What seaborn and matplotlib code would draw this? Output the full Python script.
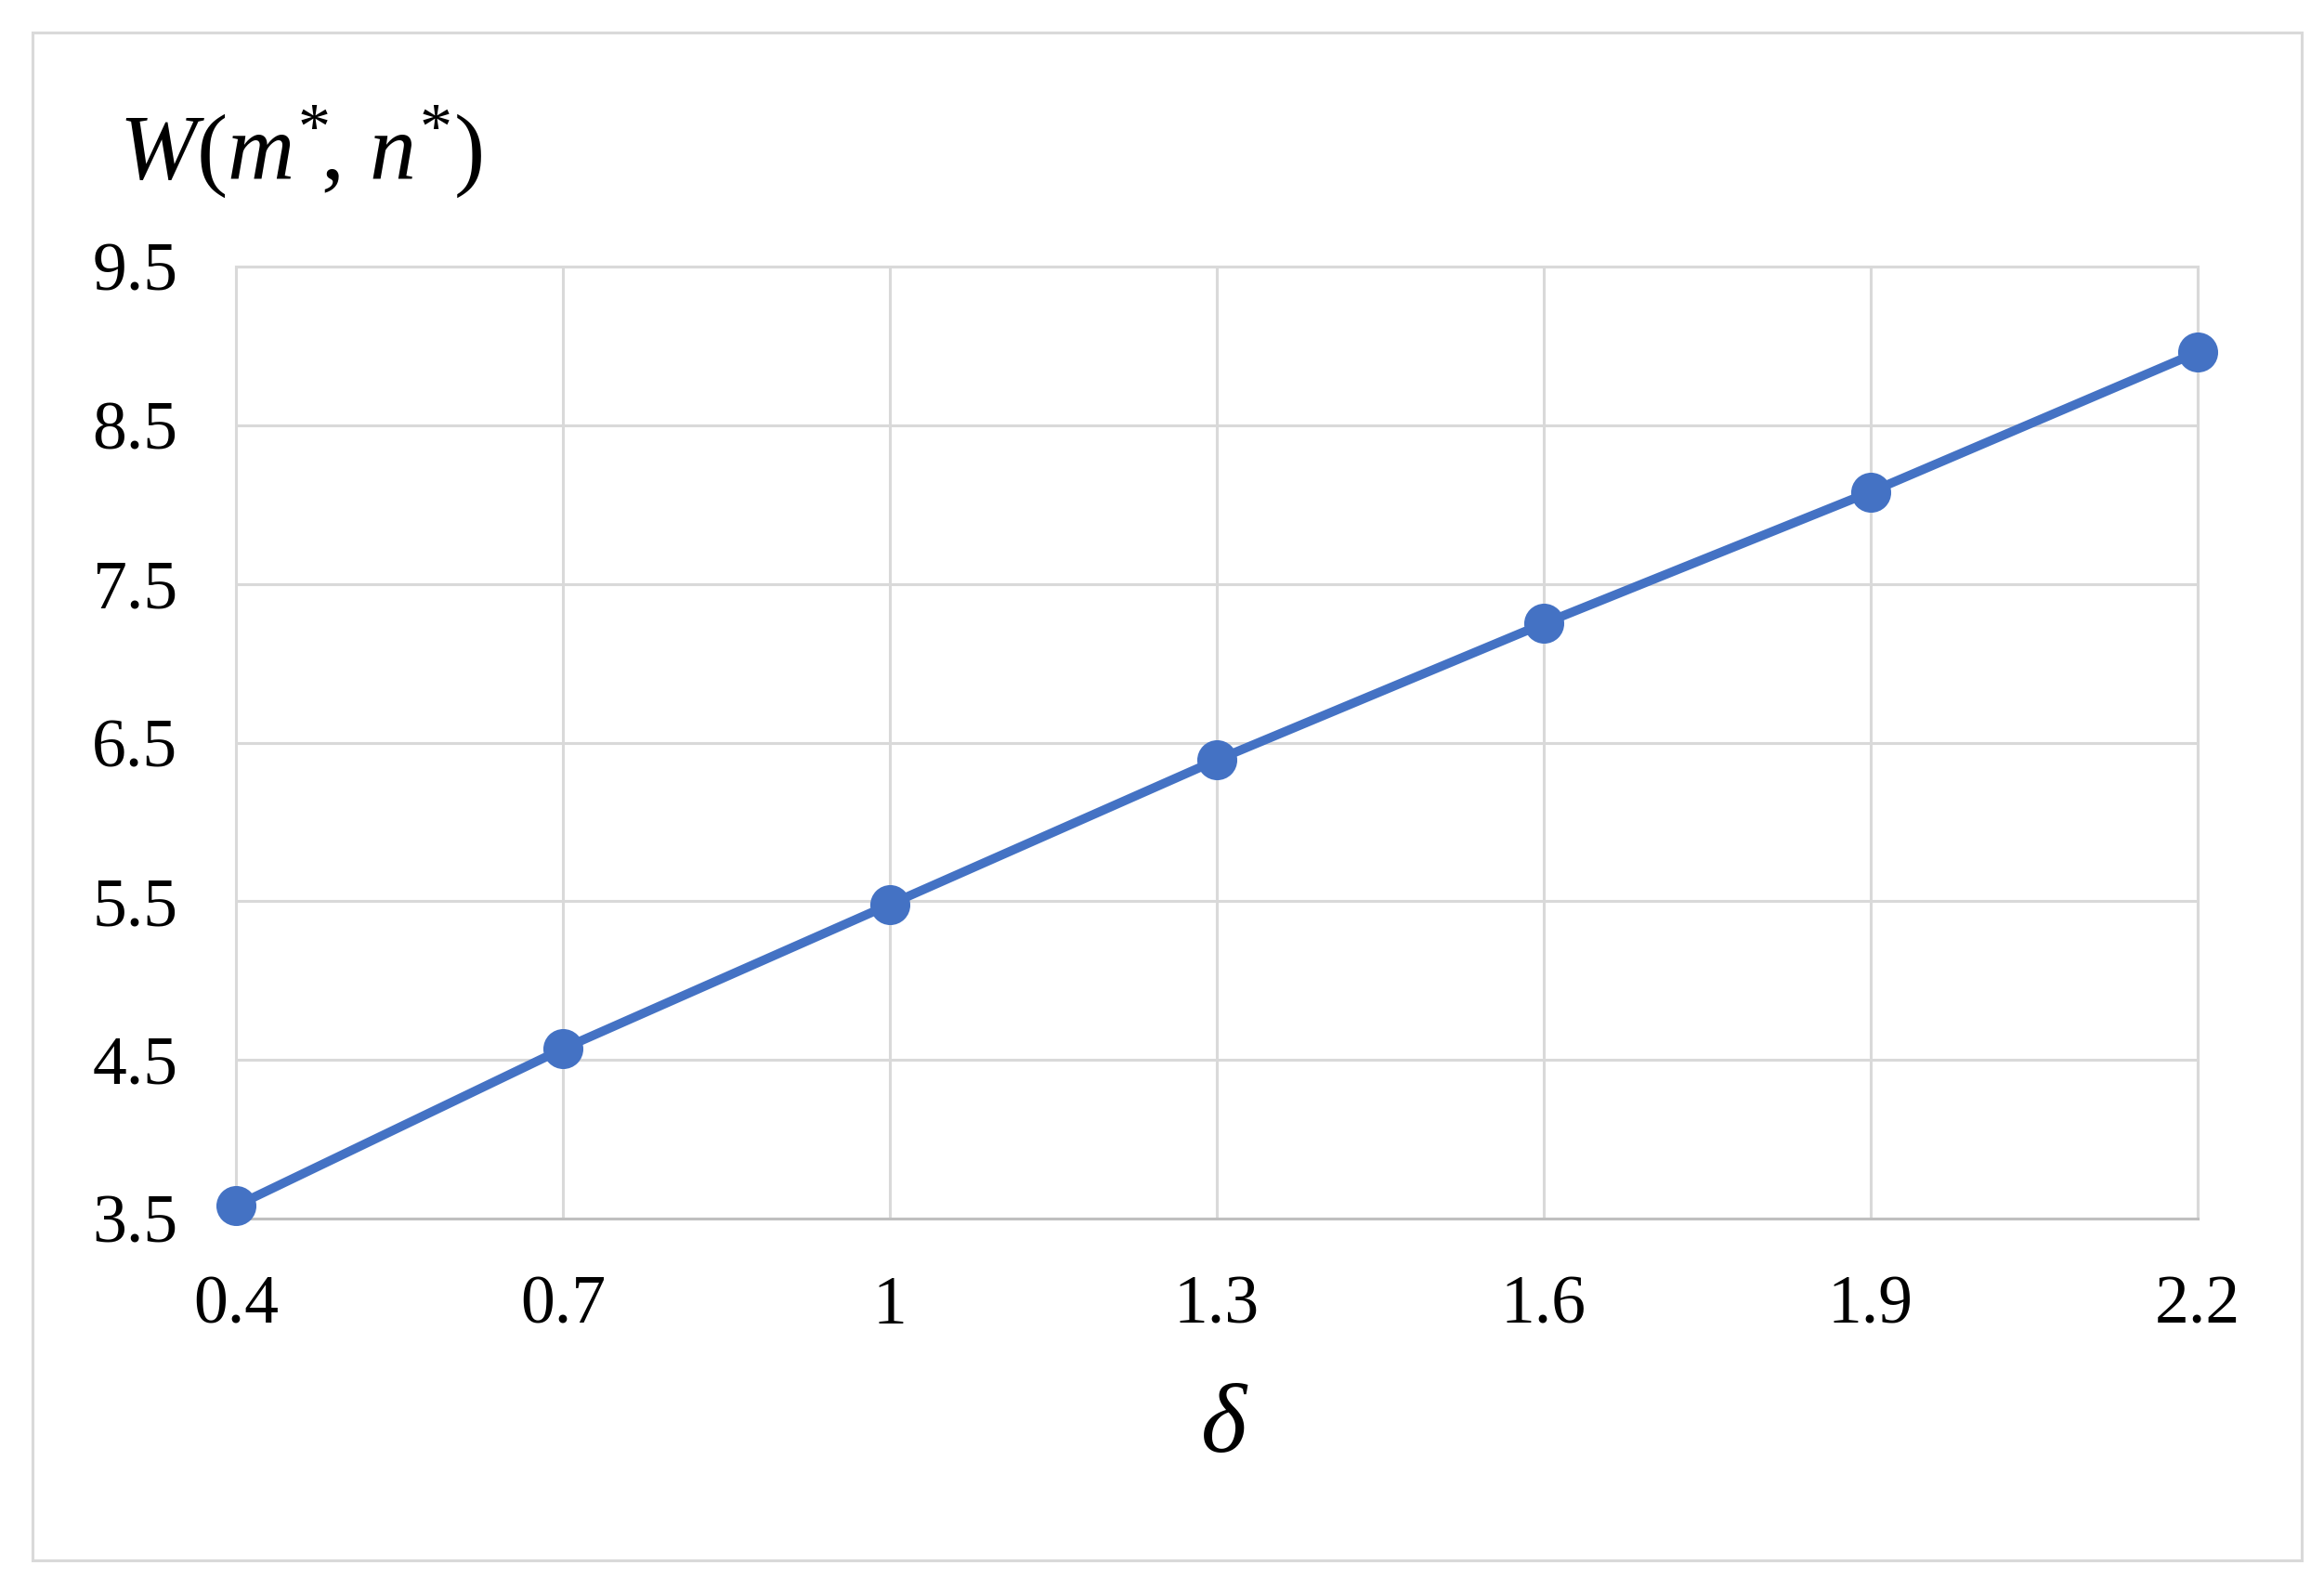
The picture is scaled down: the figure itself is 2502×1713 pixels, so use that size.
import matplotlib
matplotlib.use("Agg")
import matplotlib.pyplot as plt
import seaborn as sns
import pandas as pd
from matplotlib.patches import Rectangle

# ---- data ----
delta = [0.4, 0.7, 1.0, 1.3, 1.6, 1.9, 2.2]
w_values = [3.58, 4.57, 5.48, 6.39, 7.25, 8.08, 8.96]
x_tick_labels = ["0.4", "0.7", "1", "1.3", "1.6", "1.9", "2.2"]
y_ticks = [3.5, 4.5, 5.5, 6.5, 7.5, 8.5, 9.5]
y_tick_labels = ["3.5", "4.5", "5.5", "6.5", "7.5", "8.5", "9.5"]
y_label = r"$W(m^{*}\!,\, n^{*})$"
x_label = "δ"

sns.set_theme(style="white")
plt.rcParams["font.family"] = ["Liberation Serif", "DejaVu Serif"]
plt.rcParams["mathtext.fontset"] = "custom"
plt.rcParams["mathtext.rm"] = "Liberation Serif"
plt.rcParams["mathtext.it"] = "Liberation Serif:italic"
plt.rcParams["text.color"] = "black"

W, H, DPI = 2502, 1713, 100
fig = plt.figure(figsize=(W / DPI, H / DPI), dpi=DPI)
fig.patch.set_facecolor("white")

# outer frame
fig.patches.append(Rectangle((35 / W, 1 - 1680 / H), (2478 - 35) / W, (1680 - 35) / H,
                             transform=fig.transFigure, fill=False,
                             edgecolor="#d9d9d9", linewidth=2.2))

ax = fig.add_axes([254 / W, 1 - 1312 / H, (2366 - 254) / W, (1312 - 287) / H])

df = pd.DataFrame({"delta": delta, "W": w_values})
sns.lineplot(data=df, x="delta", y="W", ax=ax, color="#4472C4", linewidth=7,
             marker="o", markersize=31, markeredgewidth=0, zorder=5)
for ln in ax.lines:
    ln.set_clip_on(False)

ax.set_xlim(0.4, 2.2)
ax.set_ylim(3.5, 9.5)
ax.set_xticks(delta)
ax.set_xticklabels(x_tick_labels)
ax.set_yticks(y_ticks)
ax.set_yticklabels(y_tick_labels)
ax.grid(True, color="#d9d9d9", linewidth=2.2)
ax.set_axisbelow(True)
for side, sp in ax.spines.items():
    sp.set_visible(True)
    sp.set_color("#d9d9d9")
    sp.set_linewidth(2.2)
ax.spines["bottom"].set_color("#bfbfbf")
ax.tick_params(axis="both", length=0, labelsize=53, colors="black")
ax.tick_params(axis="y", pad=45)
ax.tick_params(axis="x", pad=44)
ax.set_xlabel("")
ax.set_ylabel("")

fig.text(128 / W, 1 - 192 / H, y_label, fontsize=72, ha="left", va="baseline",
         color="black")
fig.text(1317 / W, 1 - 1538 / H, x_label, fontsize=76, fontstyle="italic",
         ha="center", va="center", color="black")

fig.savefig("out.png", dpi=DPI, facecolor="white")
